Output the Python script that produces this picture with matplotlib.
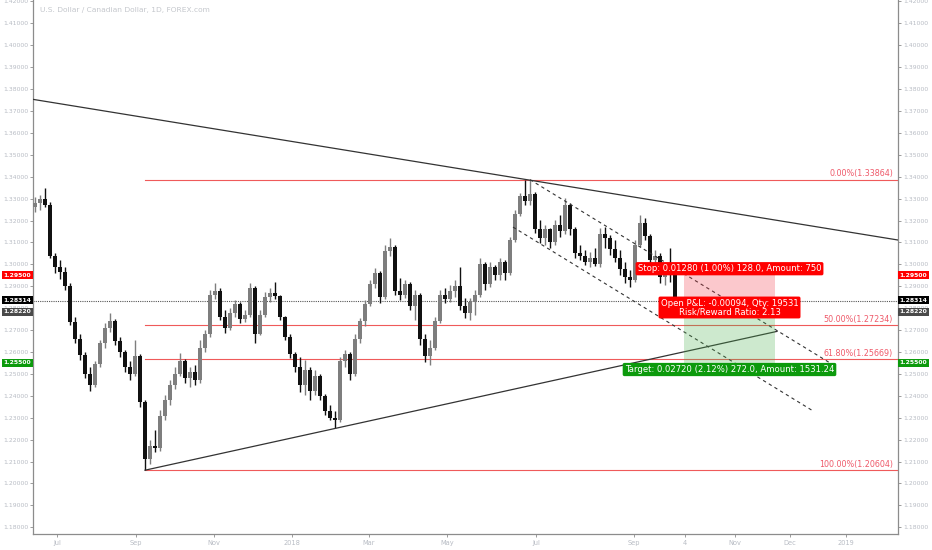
import matplotlib
matplotlib.use("Agg")
import matplotlib.pyplot as plt
from matplotlib.patches import Rectangle
import numpy as np

# ---- data (daily USD/CAD bars) ----
title = "U.S. Dollar / Canadian Dollar, 1D, FOREX.com"

opens = [1.3260, 1.3280, 1.3300, 1.3271, 1.3040, 1.2990, 1.2965, 1.2900, 1.2735, 1.2660,
         1.2585, 1.2500, 1.2450, 1.2545, 1.2640, 1.2710, 1.2740, 1.2650, 1.2600, 1.2530,
         1.2500, 1.2580, 1.2370, 1.2110, 1.2170, 1.2160, 1.2310, 1.2380, 1.2450, 1.2500,
         1.2560, 1.2480, 1.2510, 1.2470, 1.2620, 1.2680, 1.2860, 1.2880, 1.2760, 1.2710,
         1.2780, 1.2820, 1.2750, 1.2770, 1.2890, 1.2680, 1.2770, 1.2850, 1.2870, 1.2855,
         1.2760, 1.2670, 1.2590, 1.2530, 1.2450, 1.2520, 1.2420, 1.2490, 1.2400, 1.2330,
         1.2300, 1.2290, 1.2560, 1.2590, 1.2500, 1.2660, 1.2740, 1.2820, 1.2910, 1.2960,
         1.2850, 1.3060, 1.3080, 1.2880, 1.2860, 1.2910, 1.2810, 1.2860, 1.2660, 1.2580,
         1.2620, 1.2740, 1.2860, 1.2840, 1.2880, 1.2900, 1.2810, 1.2780, 1.2830, 1.2860,
         1.3000, 1.2910, 1.2990, 1.2950, 1.3010, 1.2960, 1.3110, 1.3230, 1.3310, 1.3290,
         1.3320, 1.3160, 1.3120, 1.3160, 1.3100, 1.3180, 1.3150, 1.3270, 1.3160, 1.3050,
         1.3040, 1.3010, 1.3030, 1.3000, 1.3140, 1.3120, 1.3070, 1.3030, 1.2980, 1.2940,
         1.2930, 1.3090, 1.3190, 1.3130, 1.3020, 1.3040, 1.2940, 1.2960, 1.2950]
highs = [1.3307, 1.3316, 1.3348, 1.3285, 1.3050, 1.3020, 1.2990, 1.2915, 1.2760, 1.2680,
         1.2600, 1.2530, 1.2560, 1.2655, 1.2730, 1.2778, 1.2750, 1.2670, 1.2610, 1.2560,
         1.2655, 1.2590, 1.2380, 1.2198, 1.2244, 1.2335, 1.2403, 1.2472, 1.2531, 1.2595,
         1.2570, 1.2530, 1.2540, 1.2655, 1.2700, 1.2883, 1.2915, 1.2890, 1.2790, 1.2801,
         1.2837, 1.2830, 1.2792, 1.2915, 1.2900, 1.2792, 1.2874, 1.2890, 1.2919, 1.2860,
         1.2765, 1.2680, 1.2600, 1.2577, 1.2563, 1.2531, 1.2518, 1.2500, 1.2410, 1.2358,
         1.2330, 1.2577, 1.2609, 1.2600, 1.2680, 1.2755, 1.2837, 1.2929, 1.2983, 1.2970,
         1.3088, 1.3120, 1.3090, 1.2938, 1.2929, 1.2919, 1.2883, 1.2870, 1.2680, 1.2655,
         1.2759, 1.2883, 1.2892, 1.2906, 1.2929, 1.2988, 1.2846, 1.2846, 1.2883, 1.3029,
         1.3010, 1.3011, 1.2997, 1.3029, 1.3020, 1.3125, 1.3248, 1.3326, 1.3385, 1.33864,
         1.3330, 1.3202, 1.3180, 1.3166, 1.3202, 1.3225, 1.3303, 1.3280, 1.3170, 1.3088,
         1.3065, 1.3056, 1.3075, 1.3166, 1.3170, 1.3134, 1.3111, 1.3065, 1.3011, 1.2974,
         1.3111, 1.3225, 1.3211, 1.3140, 1.3065, 1.3050, 1.2974, 1.3075, 1.2955]
lows = [1.3239, 1.3250, 1.3260, 1.3030, 1.2960, 1.2935, 1.2883, 1.2723, 1.2641, 1.2563,
        1.2481, 1.2422, 1.2440, 1.2530, 1.2620, 1.2690, 1.2632, 1.2577, 1.2508, 1.2472,
        1.2490, 1.2349, 1.20604, 1.2090, 1.2143, 1.2150, 1.2290, 1.2360, 1.2430, 1.2490,
        1.2458, 1.2440, 1.2449, 1.2460, 1.2600, 1.2670, 1.2840, 1.2746, 1.2687, 1.2700,
        1.2760, 1.2732, 1.2737, 1.2760, 1.2641, 1.2677, 1.2760, 1.2830, 1.2840, 1.2746,
        1.2655, 1.2572, 1.2508, 1.2417, 1.2403, 1.2381, 1.2403, 1.2381, 1.2312, 1.2289,
        1.2253, 1.2280, 1.2530, 1.2472, 1.2490, 1.2640, 1.2720, 1.2810, 1.2890, 1.2824,
        1.2840, 1.3040, 1.2860, 1.2837, 1.2846, 1.2792, 1.2746, 1.2632, 1.2554, 1.2540,
        1.2610, 1.2730, 1.2824, 1.2828, 1.2851, 1.2792, 1.2755, 1.2746, 1.2769, 1.2850,
        1.2883, 1.2895, 1.2929, 1.2929, 1.2929, 1.2950, 1.3100, 1.3220, 1.3271, 1.3271,
        1.3143, 1.3097, 1.3088, 1.3075, 1.3090, 1.3125, 1.3140, 1.3134, 1.3029, 1.3020,
        1.2997, 1.2988, 1.2993, 1.2990, 1.3075, 1.3043, 1.3011, 1.2951, 1.2915, 1.2897,
        1.2920, 1.3080, 1.3111, 1.2997, 1.2997, 1.2915, 1.2906, 1.2919, 1.2825]
closes = [1.3280, 1.3300, 1.3271, 1.3040, 1.2990, 1.2965, 1.2900, 1.2735, 1.2660, 1.2585,
          1.2500, 1.2450, 1.2545, 1.2640, 1.2710, 1.2740, 1.2650, 1.2600, 1.2530, 1.2500,
          1.2580, 1.2370, 1.2110, 1.2170, 1.2160, 1.2310, 1.2380, 1.2450, 1.2500, 1.2560,
          1.2480, 1.2510, 1.2470, 1.2620, 1.2680, 1.2860, 1.2880, 1.2760, 1.2710, 1.2780,
          1.2820, 1.2750, 1.2770, 1.2890, 1.2680, 1.2770, 1.2850, 1.2870, 1.2855, 1.2760,
          1.2670, 1.2590, 1.2530, 1.2450, 1.2520, 1.2420, 1.2490, 1.2400, 1.2330, 1.2300,
          1.2290, 1.2560, 1.2590, 1.2500, 1.2660, 1.2740, 1.2820, 1.2910, 1.2960, 1.2850,
          1.3060, 1.3080, 1.2880, 1.2860, 1.2910, 1.2810, 1.2860, 1.2660, 1.2580, 1.2620,
          1.2740, 1.2860, 1.2840, 1.2880, 1.2900, 1.2810, 1.2780, 1.2830, 1.2860, 1.3000,
          1.2910, 1.2990, 1.2950, 1.3010, 1.2960, 1.3110, 1.3230, 1.3310, 1.3290, 1.3320,
          1.3160, 1.3120, 1.3160, 1.3100, 1.3180, 1.3150, 1.3270, 1.3160, 1.3050, 1.3040,
          1.3010, 1.3030, 1.3000, 1.3140, 1.3120, 1.3070, 1.3030, 1.2980, 1.2940, 1.2930,
          1.3090, 1.3190, 1.3130, 1.3020, 1.3040, 1.2940, 1.2960, 1.2950, 1.28314]

# time axis labels (bar index positions)
date_ticks = [4.4, 20.2, 35.8, 51.4, 66.8, 82.4, 100.2, 119.8, 130.0, 140.0, 151.0, 162.2]
date_labels = ["Jul", "Sep", "Nov", "2018", "Mar", "May", "Jul", "Sep", "4", "Nov", "Dec", "2019"]

# drawings
upper_trend = ([-0.4, 172.6], [1.3753, 1.3111])
lower_trend = ([22, 148.4], [1.20604, 1.2694])
channel_top = ([99, 159], [1.33864, 1.2550])
channel_bot = ([95.6, 155.6], [1.3170, 1.2331])

fib_start = 22
fib_labels = ["0.00%", "50.00%", "61.80%", "100.00%"]
fib_prices = [1.33864, 1.27234, 1.25669, 1.20604]

last_price = 1.28314
entry_price = 1.28220
stop_price = 1.29500
target_price = 1.25500
pos_x0, pos_x1 = 129.8, 148.0

stop_text = "Stop: 0.01280 (1.00%) 128.0, Amount: 750"
pnl_text = "Open P&L: -0.00094, Qty: 19531\nRisk/Reward Ratio: 2.13"
target_text = "Target: 0.02720 (2.12%) 272.0, Amount: 1531.24"

# ---- figure ----
plt.rcParams['font.family'] = ['DejaVu Sans']
fig = plt.figure(figsize=(9.32, 5.5), dpi=100)
ax = fig.add_axes([33 / 932, 16 / 550, 865 / 932, 534 / 550])
ax.set_xlim(-0.4, 172.6)
ax.set_ylim(1.17692, 1.42065)

FIB = '#ef5a5a'
GRAY_TXT = '#b8bcc4'

# candles
x = np.arange(len(closes))
o = np.array(opens)
c = np.array(closes)
up = c >= o
cols = np.where(up, '#7e7e7e', '#111111')
ax.vlines(x, lows, highs, colors=cols, lw=1.0, zorder=3)
body_h = np.maximum(np.abs(c - o), 0.0005)
ax.bar(x, body_h, bottom=np.minimum(o, c), width=0.75, color=cols, zorder=3, linewidth=0)

# trend lines
ax.plot(*upper_trend, color='#333333', lw=0.9, zorder=4)
ax.plot(*lower_trend, color='#333333', lw=0.9, zorder=4)
ax.plot(*channel_top, color='#333333', lw=0.8, ls=(0, (3, 3)), zorder=4)
ax.plot(*channel_bot, color='#333333', lw=0.8, ls=(0, (3, 3)), zorder=4)

# fib retracement
for lab, pr in zip(fib_labels, fib_prices):
    ax.plot([fib_start, 172.6], [pr, pr], color=FIB, lw=0.8, zorder=2)
    ax.annotate(f"{lab}({pr:.5f})", xy=(171.6, pr), xytext=(0, 1), textcoords='offset points',
                ha='right', va='bottom', fontsize=5.8, color='#ef5a6a', zorder=5)

# current price line
ax.axhline(last_price, color='#555555', lw=0.8, ls=(0, (1, 1)), zorder=2)

# position tool
ax.add_patch(Rectangle((pos_x0, entry_price), pos_x1 - pos_x0, stop_price - entry_price,
                       facecolor=(0.95, 0.21, 0.27, 0.27), edgecolor='none', zorder=4))
ax.add_patch(Rectangle((pos_x0, target_price), pos_x1 - pos_x0, entry_price - target_price,
                       facecolor=(0.30, 0.69, 0.31, 0.28), edgecolor='none', zorder=4))
mid = (pos_x0 + pos_x1) / 2
box_red = dict(boxstyle='round,pad=0.25,rounding_size=0.2', facecolor='#ff0000', edgecolor='none')
box_grn = dict(boxstyle='round,pad=0.25,rounding_size=0.2', facecolor='#0c9a0c', edgecolor='none')
ax.annotate(stop_text, xy=(mid, stop_price), xytext=(0, 1.5), textcoords='offset points',
            ha='center', va='bottom', fontsize=6.1, color='white', bbox=box_red, zorder=6)
ax.annotate(pnl_text, xy=(mid, entry_price), xytext=(0, -3), textcoords='offset points',
            ha='center', va='center', fontsize=6.1, color='white', bbox=box_red, zorder=6,
            multialignment='center', linespacing=0.95)
ax.annotate(target_text, xy=(mid, target_price), xytext=(0, -1.5), textcoords='offset points',
            ha='center', va='top', fontsize=6.1, color='white', bbox=box_grn, zorder=6)

# axes styling
for s in ['left', 'right', 'bottom']:
    ax.spines[s].set_color('#8c8c8c')
    ax.spines[s].set_linewidth(0.9)
ax.spines['top'].set_visible(False)

yt = np.round(np.arange(1.18, 1.4205, 0.01), 2)
ax.set_yticks(yt)
ax.set_yticklabels([f"{v:.5f}" for v in yt])
ax.set_xticks(date_ticks)
ax.set_xticklabels(date_labels)
ax.tick_params(axis='y', left=True, right=True, labelleft=True, labelright=True,
               length=2, width=0.6, color='#8c8c8c', labelcolor=GRAY_TXT, labelsize=4.4, pad=1.5)
ax.tick_params(axis='x', length=2, width=0.6, color='#8c8c8c', labelcolor=GRAY_TXT,
               labelsize=4.8, pad=2)

# price tags on both axes
tags = [(stop_price, '#ff0000', 0), (last_price, '#000000', 0.8),
        (entry_price, '#4a4a4a', -6.2), (target_price, '#0c9a0c', 0)]
for pr, colr, dy in tags:
    for side in (0, 1):
        ax.annotate(f"{pr:.5f}", xy=(side, pr), xycoords=('axes fraction', 'data'),
                    xytext=(-1.2 if side == 0 else 1.2, dy), textcoords='offset points',
                    ha='right' if side == 0 else 'left', va='center', fontsize=4.4,
                    fontweight='bold', color='white', annotation_clip=False, zorder=7,
                    bbox=dict(boxstyle='square,pad=0.22', facecolor=colr, edgecolor='none'))

ax.text(0.008, 0.981, title, transform=ax.transAxes, fontsize=5.4, color='#c4c7cc',
        ha='left', va='center')

fig.savefig("out.png", dpi=100, facecolor='white')
